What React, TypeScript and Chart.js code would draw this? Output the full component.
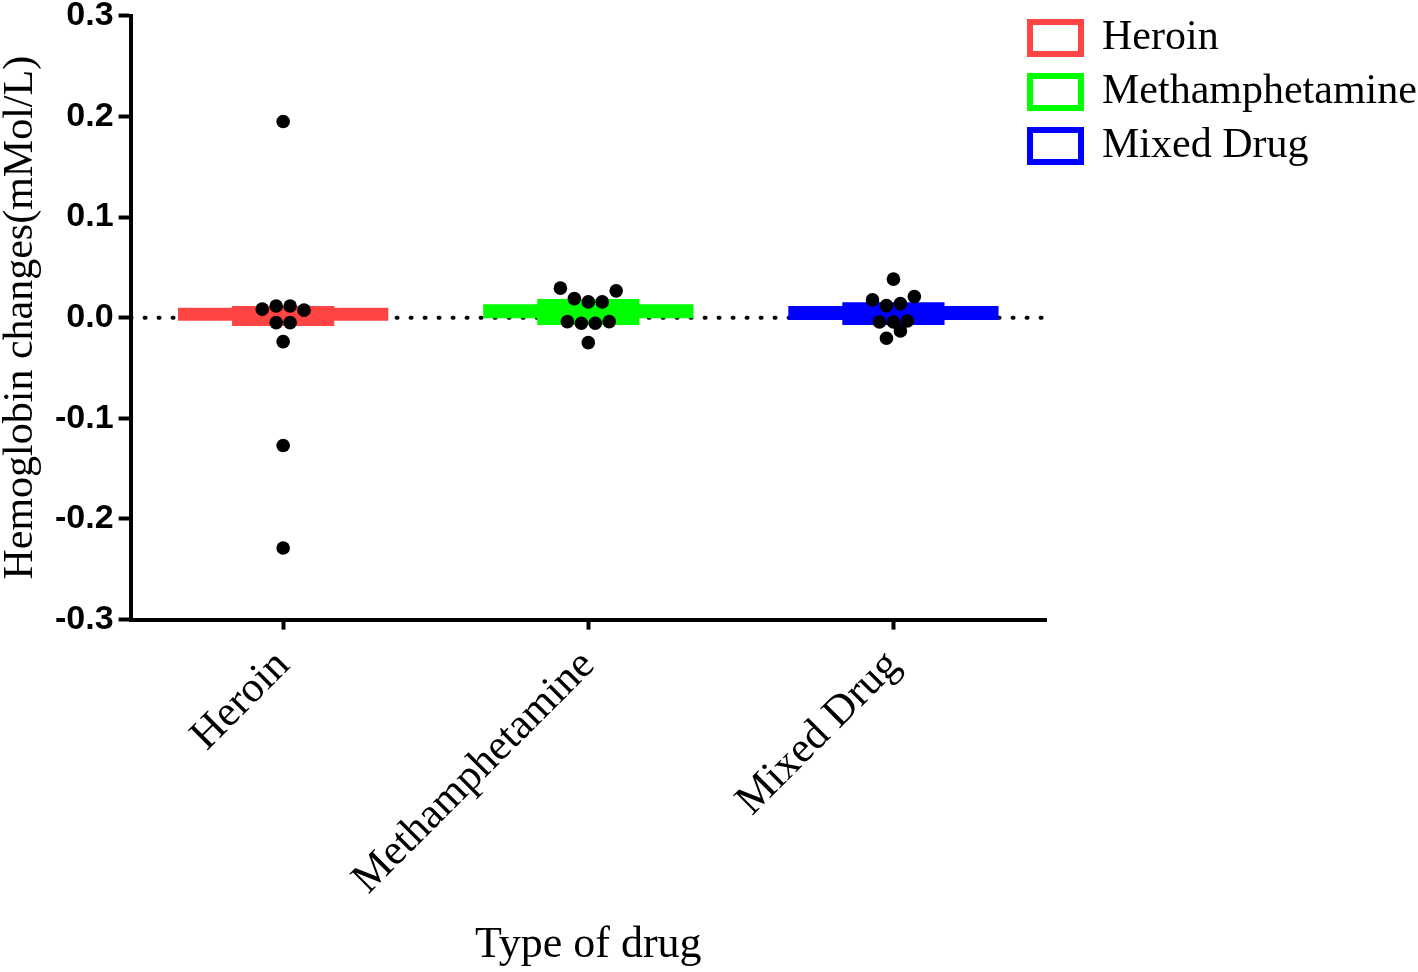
import React, { useEffect, useRef } from 'react';
import { Chart, registerables } from 'chart.js';

Chart.register(...registerables);

// ---- data ----
const categories = ['Heroin', 'Methamphetamine', 'Mixed Drug'];
const colors = ['rgb(255,68,68)', 'rgb(0,255,0)', 'rgb(0,0,255)'];

// wide thin band (low/high) per category
const bandLow = [-0.003, -0.0005, -0.0022];
const bandHigh = [0.0098, 0.0134, 0.0117];
// narrower box (low/high) per category
const boxLow = [-0.0082, -0.0072, -0.0072];
const boxHigh = [0.0117, 0.0187, 0.0154];

// individual values, grouped in the swarm rows as plotted (left to right)
const heroinRows = [[0.195], [0.0085, 0.0117, 0.0117, 0.0075], [-0.0049, -0.0049], [-0.0238], [-0.127], [-0.2288]];
const methRows = [[0.0294, 0.019, 0.0157, 0.0157, 0.0267], [-0.0039, -0.0055, -0.0055, -0.0039], [-0.0248]];
const mixedRows = [[0.0383], [0.0177, 0.012, 0.014, 0.021], [-0.0042, -0.0042, -0.0032], [-0.0204, -0.0131]];

const yTicks = [-0.3, -0.2, -0.1, 0, 0.1, 0.2, 0.3];

const SWARM_STEP = 0.0457; // dot spacing in category units
const SERIF = '"Liberation Serif", "Times New Roman", serif';
const SANS = '"Liberation Sans", Arial, sans-serif';

const swarmPoints = [heroinRows, methRows, mixedRows].flatMap((rows, ci) =>
  rows.flatMap((row) => row.map((v, j) => ({ x: ci + (j - (row.length - 1) / 2) * SWARM_STEP, y: v })))
);

const legendPlace = {
  id: 'legendPlace',
  afterLayout(chart: any) {
    const lg = chart.legend;
    if (!lg) return;
    const ca = chart.chartArea;
    lg.left = ca.right - 28;
    lg.top = ca.top - 10.8;
  },
};

export default function App() {
  const ref = useRef<HTMLCanvasElement | null>(null);
  useEffect(() => {
    if (!ref.current) return;
    const chart = new Chart(ref.current, {
      type: 'bar',
      data: {
        labels: categories,
        datasets: [
          {
            type: 'scatter',
            label: 'values',
            data: swarmPoints,
            xAxisID: 'xs',
            yAxisID: 'y',
            pointRadius: 6.8,
            pointBackgroundColor: '#000',
            pointBorderWidth: 0,
            order: 0,
          } as any,
          {
            type: 'bar',
            label: 'box',
            data: categories.map((_, i) => [boxLow[i], boxHigh[i]]),
            backgroundColor: colors,
            borderWidth: 0,
            grouped: false,
            barPercentage: 0.335,
            categoryPercentage: 1,
            xAxisID: 'x',
            yAxisID: 'y',
            order: 1,
          } as any,
          {
            type: 'bar',
            label: 'band',
            data: categories.map((_, i) => [bandLow[i], bandHigh[i]]),
            backgroundColor: colors,
            borderWidth: 0,
            grouped: false,
            barPercentage: 0.689,
            categoryPercentage: 1,
            xAxisID: 'x',
            yAxisID: 'y',
            order: 2,
          } as any,
          {
            type: 'line',
            label: 'zero',
            data: [
              { x: -0.5, y: 0 },
              { x: 2.5, y: 0 },
            ],
            xAxisID: 'xs',
            yAxisID: 'y',
            borderColor: '#000',
            borderWidth: 4,
            borderDash: [1, 13],
            borderCapStyle: 'round',
            pointRadius: 0,
            fill: false,
            order: 3,
          } as any,
        ],
      },
      options: {
        responsive: false,
        animation: false,
        events: [],
        layout: { padding: { left: 0, right: 0, top: 15.8, bottom: 0 } },
        plugins: {
          legend: {
            position: 'right',
            align: 'start',
            maxWidth: 372,
            onClick: () => {},
            labels: {
              boxWidth: 51,
              boxHeight: 32,
              padding: 12,
              color: '#000',
              font: { family: SERIF, size: 42 },
              generateLabels: () =>
                categories.map((c, i) => ({
                  text: c,
                  fillStyle: '#fff',
                  strokeStyle: colors[i],
                  lineWidth: 6,
                  hidden: false,
                  fontColor: '#000',
                })),
            },
          },
          tooltip: { enabled: false },
        },
        scales: {
          x: {
            type: 'category',
            offset: true,
            grid: {
              offset: false,
              drawOnChartArea: false,
              drawTicks: true,
              tickLength: 10,
              tickWidth: 4,
              tickColor: '#000',
              color: '#000',
            },
            border: { display: true, color: '#000', width: 4 },
            ticks: {
              minRotation: 45,
              maxRotation: 45,
              autoSkip: false,
              padding: 14,
              color: '#000',
              font: { family: SERIF, size: 43, lineHeight: 1 },
            },
            title: {
              display: true,
              text: 'Type of drug',
              color: '#000',
              font: { family: SERIF, size: 44, lineHeight: 1 },
              padding: { top: 7, bottom: 5 },
            },
          },
          xs: { type: 'linear', display: false, min: -0.5, max: 2.5, offset: false },
          y: {
            type: 'linear',
            min: -0.3,
            max: 0.3,
            afterBuildTicks: (s: any) => {
              s.ticks = yTicks.map((v) => ({ value: v }));
            },
            grid: {
              drawOnChartArea: false,
              drawTicks: true,
              tickLength: 12,
              tickWidth: 4,
              tickColor: '#000',
              color: '#000',
            },
            border: { display: true, color: '#000', width: 4 },
            ticks: {
              padding: 5,
              color: '#000',
              font: { family: SANS, size: 34, weight: 'bold', lineHeight: 0.6 },
              callback: (v: any) => (Math.abs(Number(v)) < 1e-9 ? 0 : Number(v)).toFixed(1),
            },
            title: {
              display: true,
              text: 'Hemoglobin changes(mMol/L)',
              color: '#000',
              font: { family: SERIF, size: 42, lineHeight: 1 },
              padding: { top: 0, bottom: 8 },
            },
          },
        },
      } as any,
      plugins: [legendPlace],
    });
    return () => chart.destroy();
  }, []);

  return (
    <div style={{ position: 'absolute', left: 0, top: 0, width: 1418, height: 972, background: '#fff' }}>
      <canvas ref={ref} width={1418} height={972} style={{ display: 'block' }} />
    </div>
  );
}
